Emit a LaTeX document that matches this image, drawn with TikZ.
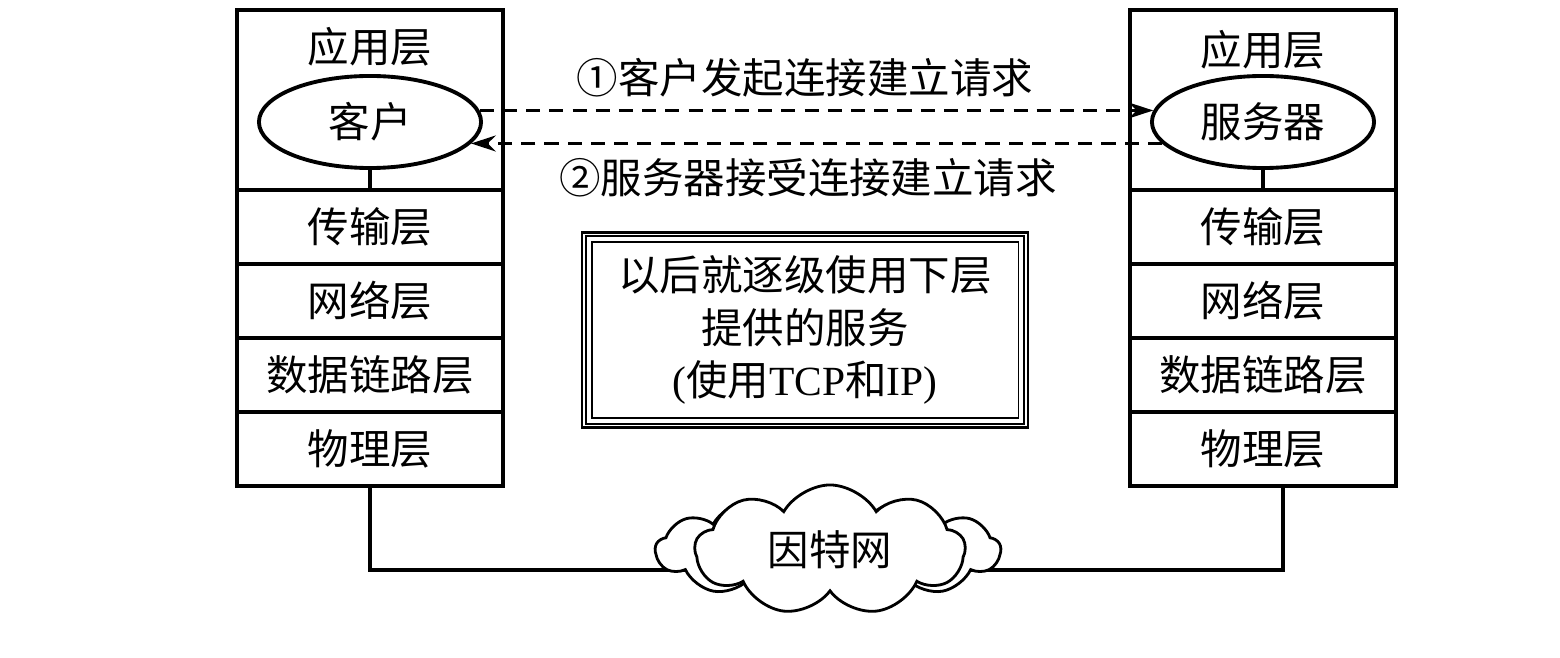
\documentclass[tikz,border=0pt]{standalone}
\usepackage{fontspec}
\newfontfamily\cjk{Noto Sans CJK SC}
\newfontfamily\latin{Liberation Serif}
\usetikzlibrary{shapes.geometric, shapes.symbols, arrows.meta, positioning, calc, backgrounds}

\begin{document}
\begin{tikzpicture}[x=0.01cm, y=-0.01cm, every node/.style={font=\cjk\fontsize{11.8}{15}\selectfont},
    layer/.style={draw, line width=1.1pt, minimum width=2.66cm, minimum height=0.74cm, inner sep=0pt, outer sep=0pt},
    host/.style={draw, ellipse, line width=1.1pt, minimum width=2.22cm, minimum height=0.92cm, inner sep=0pt},
    req/.style={line width=1.1pt, dash pattern=on 4pt off 2.6pt}]
        \useasboundingbox (0,0) rectangle (1560,658);

        % client side
        \node[layer, minimum height=1.8cm] (lapp) at (370,100) {};
        \node[layer, below=0pt of lapp] (ltrans) {传输层};
        \node[layer, below=0pt of ltrans] (lnet) {网络层};
        \node[layer, below=0pt of lnet] (llink) {数据链路层};
        \node[layer, below=0pt of llink] (lphy) {物理层};
        \node (lapptxt) at (370,47) {应用层};
        \node[host] (lcli) at (370,122) {客户};
        \draw[line width=1.1pt] (lcli) -- (lapp.south);

        % server side
        \node[layer, minimum height=1.8cm] (rapp) at (1263,100) {};
        \node[layer, below=0pt of rapp] (rtrans) {传输层};
        \node[layer, below=0pt of rtrans] (rnet) {网络层};
        \node[layer, below=0pt of rnet] (rlink) {数据链路层};
        \node[layer, below=0pt of rlink] (rphy) {物理层};
        \node (rapptxt) at (1263,50) {应用层};
        \node[host] (rsrv) at (1263,122) {服务器};
        \draw[line width=1.1pt] (rsrv) -- (rapp.south);

        \draw[req, -{Stealth[length=7pt, width=4.5pt]}] (lcli.6) -- (rsrv.174);
        \draw[req, -{Stealth[length=7pt, width=4.5pt]}] (rsrv.-168) -- (lcli.-12);
        \node (ask) at (805,78) {①客户发起连接建立请求};
        \node (ack) at (808,178) {②服务器接受连接建立请求};

        \node[draw, line width=0.7pt, minimum width=4.46cm, minimum height=1.95cm, align=center] (note) at (805,330) {以后就逐级使用下层\\提供的服务\\{\latin(}使用{\latin TCP}和{\latin IP)}};
        \draw[double, double distance=1.2pt, line width=0.5pt] ([shift={(8,8)}]note.north west) rectangle ([shift={(-8,-8)}]note.south east);

        \node[cloud, draw, fill=white, line width=0.8pt, cloud puffs=13, cloud puff arc=110, cloud ignores aspect, minimum width=3.45cm, minimum height=1.1cm] (netback) at (828,550) {};
        \node[cloud, draw, fill=white, line width=0.8pt, cloud puffs=9, cloud puff arc=120, cloud ignores aspect, minimum width=2.7cm, minimum height=1.3cm] (net) at (830,550) {因特网};

        \begin{pgfonlayer}{background}
        \draw[line width=1.1pt] (lphy.south) |- ($(net.center)+(0,20)$);
        \draw[line width=1.1pt] ($(rphy.south)+(20,0)$) |- ($(net.center)+(0,20)$);
        \end{pgfonlayer}
      \end{tikzpicture}
\end{document}
